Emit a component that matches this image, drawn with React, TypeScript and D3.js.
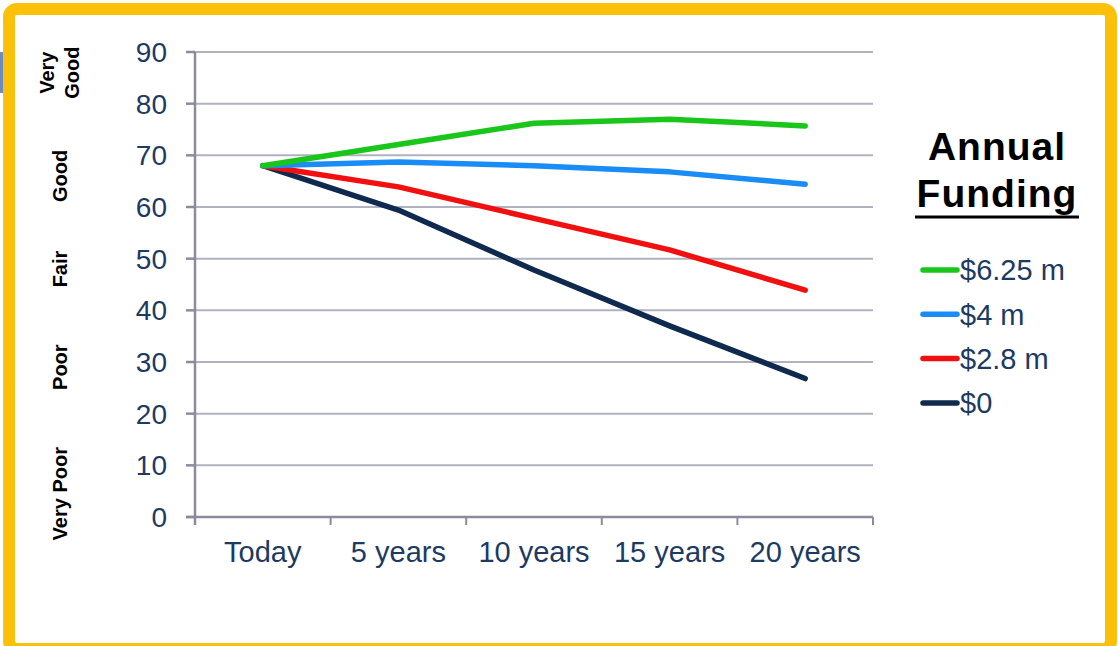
import React from "react";
import * as d3 from "d3";

const categories = ["Today", "5 years", "10 years", "15 years", "20 years"];
const seriesNames = ["$6.25 m", "$4 m", "$2.8 m", "$0"];
const funding625 = [68, 72.1, 76.2, 77.0, 75.7];
const funding4 = [68, 68.7, 68.0, 66.8, 64.4];
const funding28 = [68, 63.9, 57.8, 51.7, 43.9];
const funding0 = [68, 59.4, 47.8, 37.0, 26.8];
const seriesColors = ["#19c619", "#1a8cf5", "#f01010", "#0f2a4e"];
const yTicks = [0, 10, 20, 30, 40, 50, 60, 70, 80, 90];
const conditionLabels = [
  { lines: ["Very", "Good"], v: 86 },
  { lines: ["Good"], v: 66 },
  { lines: ["Fair"], v: 48 },
  { lines: ["Poor"], v: 29 },
  { lines: ["Very Poor"], v: 4.5 },
];

const W = 1118;
const H = 646;
const left = 195;
const right = 873;
const top = 52;
const bottom = 517;
const font = "'Liberation Sans', Arial, Helvetica, sans-serif";
const tickColor = "#1c3a62";
const axisColor = "#8a8c9e";
const gridColor = "#b0b2c0";

export default function App() {
  const series = [funding625, funding4, funding28, funding0];
  const x = d3.scaleBand<string>().domain(categories).range([left, right]);
  const y = d3.scaleLinear().domain([0, 90]).range([bottom, top]);
  const line = d3
    .line<number>()
    .x((_, i) => (x(categories[i]) as number) + x.bandwidth() / 2)
    .y((d) => y(d));
  const xTickPos = [...categories.map((c) => x(c) as number), right];

  return (
    <svg
      width={W}
      height={H}
      style={{ position: "absolute", left: 0, top: 0, background: "#fff" }}
    >
      <rect x={0} y={52} width={3} height={41} fill="#6b8cc0" />
      <rect
        x={9}
        y={9}
        width={1102}
        height={640}
        rx={8}
        fill="none"
        stroke="#fbc10a"
        strokeWidth={12}
      />
      {/* gridlines */}
      {yTicks
        .filter((t) => t > 0)
        .map((t) => (
          <line
            key={"g" + t}
            x1={left}
            x2={right}
            y1={y(t)}
            y2={y(t)}
            stroke={gridColor}
            strokeWidth={2}
          />
        ))}
      {/* y axis */}
      <line x1={left} x2={left} y1={top} y2={bottom + 8} stroke={axisColor} strokeWidth={2.5} />
      {yTicks.map((t) => (
        <g key={"yt" + t}>
          <line x1={left - 9} x2={left} y1={y(t)} y2={y(t)} stroke={axisColor} strokeWidth={2.5} />
          <text
            x={167}
            y={y(t)}
            dy="0.36em"
            textAnchor="end"
            fontFamily={font}
            fontSize={28}
            fill={tickColor}
          >
            {t}
          </text>
        </g>
      ))}
      {/* x axis */}
      <line x1={left - 9} x2={right} y1={bottom} y2={bottom} stroke={axisColor} strokeWidth={2.5} />
      {xTickPos.map((p, i) => (
        <line key={"xt" + i} x1={p} x2={p} y1={bottom} y2={bottom + 8} stroke={axisColor} strokeWidth={2} />
      ))}
      {categories.map((c) => (
        <text
          key={c}
          x={(x(c) as number) + x.bandwidth() / 2}
          y={562}
          textAnchor="middle"
          fontFamily={font}
          fontSize={29}
          fill={tickColor}
        >
          {c}
        </text>
      ))}
      {/* condition labels */}
      {conditionLabels.map((cl, i) => (
        <text
          key={"cl" + i}
          transform={`translate(${cl.lines.length > 1 ? 54 : 67},${y(cl.v)}) rotate(-90)`}
          textAnchor="middle"
          fontFamily={font}
          fontWeight="bold"
          fontSize={20}
          fill="#000"
        >
          {cl.lines.map((ln, j) => (
            <tspan key={j} x={0} dy={j === 0 ? 0 : 25}>
              {ln}
            </tspan>
          ))}
        </text>
      ))}
      {/* lines */}
      {series
        .map((s, i) => (
          <path
            key={"s" + i}
            d={line(s) as string}
            fill="none"
            stroke={seriesColors[i]}
            strokeWidth={5.5}
            strokeLinecap="round"
            strokeLinejoin="round"
          />
        ))
        .reverse()}
      {/* legend */}
      <text x={997} y={160} textAnchor="middle" fontFamily={font} fontWeight="bold" fontSize={39} letterSpacing={1} fill="#000">
        Annual
      </text>
      <text x={997} y={207} textAnchor="middle" fontFamily={font} fontWeight="bold" fontSize={39} letterSpacing={1} fill="#000">
        Funding
      </text>
      <line x1={915} x2={1079} y1={217} y2={217} stroke="#000" strokeWidth={3} />
      {seriesNames.map((n, i) => {
        const ly = 270 + i * 44.3;
        return (
          <g key={n}>
            <line x1={923} x2={957} y1={ly} y2={ly} stroke={seriesColors[i]} strokeWidth={5.5} strokeLinecap="round" />
            <text x={960} y={ly} dy="0.36em" fontFamily={font} fontSize={29} fill={tickColor}>
              {n}
            </text>
          </g>
        );
      })}
    </svg>
  );
}
